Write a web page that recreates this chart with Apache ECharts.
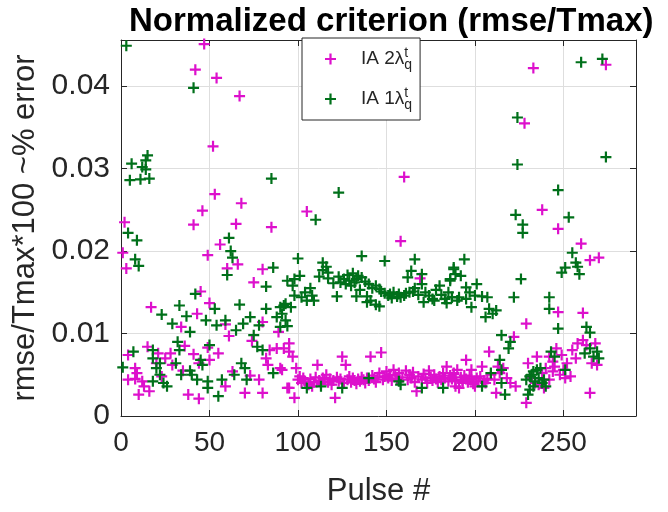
<!DOCTYPE html>
<html><head><meta charset="utf-8">
<script src="https://cdn.jsdelivr.net/npm/echarts@6/dist/echarts.min.js"></script>
<style>html,body{margin:0;padding:0;background:#fff}#c{width:668px;height:512px}</style>
</head><body><div id="c"></div><script>
// ---- data ----
const titleText = 'Normalized criterion (rmse/Tmax)';
const xName = 'Pulse #';
const yName = 'rmse/Tmax*100 ~% error';
const xTicks = [0, 50, 100, 150, 200, 250];
const yTicks = [0, 0.01, 0.02, 0.03, 0.04];
const seriesNames = ['IA 2λ', 'IA 1λ'];
const seriesColors = ['#dd10cc', '#00701a'];

// IA 2 lambda_q^t (magenta)
const ia2 = [
 [47,0.0451],[42,0.0420],[54,0.0410],[67,0.0388],[52,0.0327],[53,0.0269],[68,0.0258],[46,0.0249],[2,0.0235],[41,0.0232],[65,0.0233],[85,0.0229],
 [1,0.0198],[56,0.0208],[49,0.0195],[66,0.0184],[60,0.0179],[3,0.0179],[80,0.0178],[75,0.0162],[45,0.0151],[17,0.0132],[43,0.0124],[50,0.0137],
 [34,0.0108],[59,0.0111],[61,0.0097],[80,0.0114],[89,0.0102],[74,0.0091],[84,0.0080],[82,0.0070],[36,0.0085],[4,0.0074],[15,0.0084],[21,0.0076],
 [28,0.0076],[25,0.0070],[20,0.0064],[29,0.0062],[8,0.0058],[49,0.0083],[41,0.0075],[44,0.0064],[35,0.0055],[50,0.0068],[55,0.0076],[9,0.0052],
 [4,0.0044],[8,0.0045],[12,0.0042],[13,0.0036],[10,0.0026],[16,0.0030],[23,0.0048],[38,0.0026],[44,0.0021],[59,0.0036],[63,0.0054],[73,0.0049],
 [70,0.0028],[78,0.0044],[80,0.0028],[91,0.0056],[94,0.0034],[83,0.0062],[88,0.0082],[95,0.0088],
 [160,0.0290],[105,0.0248],[158,0.0212],[169,0.0167],
 [92,0.0082],[95,0.0078],[97,0.0072],[90,0.0058],[99,0.0058],[98,0.0022],[95,0.0034],[111,0.0062],[125,0.0072],[127,0.0062],[141,0.0072],[147,0.0077],
 [121,0.0022],[108,0.0036],[167,0.0030],[174,0.0055],[184,0.0060],[190,0.0056],[191,0.0034],
 [100,0.0044],[101,0.0048],[102,0.0040],[103,0.0046],[104,0.0042],[106,0.0038],[107,0.0045],[109,0.0041],[110,0.0047],[112,0.0043],[113,0.0039],
 [114,0.0046],[115,0.0044],[116,0.0050],[117,0.0041],[118,0.0045],[119,0.0038],[120,0.0043],[122,0.0047],[123,0.0042],[124,0.0045],[126,0.0040],
 [128,0.0044],[129,0.0048],[130,0.0041],[131,0.0046],[132,0.0043],[133,0.0039],[134,0.0045],[135,0.0042],[136,0.0047],[137,0.0044],[138,0.0040],
 [139,0.0046],[140,0.0043],[142,0.0049],[143,0.0045],[144,0.0041],[145,0.0047],[146,0.0052],[148,0.0044],[149,0.0048],[150,0.0054],[151,0.0046],
 [152,0.0050],[153,0.0043],[154,0.0056],[155,0.0049],[156,0.0045],[157,0.0052],[159,0.0047],[161,0.0055],[162,0.0044],[163,0.0050],[164,0.0046],
 [165,0.0053],[166,0.0041],[168,0.0048],[170,0.0044],[171,0.0051],[172,0.0046],[173,0.0040],[175,0.0047],[176,0.0043],[177,0.0050],[178,0.0045],
 [179,0.0041],[180,0.0048],[181,0.0044],[182,0.0052],[183,0.0046],[185,0.0042],[186,0.0049],[187,0.0045],[188,0.0051],[189,0.0043],[192,0.0047],
 [193,0.0042],[194,0.0049],[195,0.0045],[196,0.0041],[197,0.0048],[198,0.0044],[199,0.0039],[201,0.0046],[202,0.0042],[203,0.0048],[205,0.0043],
 [206,0.0040],[207,0.0045],
 [233,0.0422],[274,0.0426],[228,0.0355],[238,0.0250],[247,0.0227],[260,0.0209],[265,0.0189],[270,0.0192],[247,0.0126],[261,0.0125],[229,0.0112],
 [222,0.0096],[208,0.0078],[195,0.0068],[198,0.0056],[204,0.0060],[216,0.0058],[212,0.0028],[200,0.0036],[189,0.0044],[193,0.0040],[188,0.0052],
 [189,0.0036],[213,0.0060],[230,0.0064],[235,0.0072],[229,0.0016],[236,0.0038],[242,0.0044],[242,0.0072],[246,0.0082],[252,0.0064],[254,0.0048],
 [257,0.0070],[255,0.0080],[258,0.0088],[261,0.0092],[263,0.0086],[268,0.0088],[266,0.0064],[269,0.0062],[265,0.0028],
 [238,0.0052],[240,0.0058],[244,0.0054],[245,0.0060],[248,0.0050],[250,0.0056],[251,0.0046],[244,0.0066],[249,0.0074],[232,0.0046],[234,0.0040],
 [239,0.0034],[209,0.0050],[211,0.0044],[214,0.0052],[218,0.0046],[220,0.0040],[223,0.0036]
];

// IA 1 lambda_q^t (green)
const ia1 = [
 [3,0.0449],[41,0.0398],[6,0.0306],[15,0.0316],[14,0.0310],[12,0.0302],[14,0.0299],[5,0.0286],[11,0.0287],[16,0.0288],[85,0.0288],
 [4,0.0222],[9,0.0213],[8,0.0190],[10,0.0182],[61,0.0216],[62,0.0200],[63,0.0192],[60,0.0171],[86,0.0180],[82,0.0157],[94,0.0164],[42,0.0148],
 [23,0.0123],[33,0.0134],[37,0.0121],[53,0.0130],[67,0.0135],[29,0.0112],[39,0.0102],[48,0.0116],[54,0.0110],[59,0.0116],[65,0.0104],[69,0.0112],
 [73,0.0120],[78,0.0110],[82,0.0130],[90,0.0132],[88,0.0120],[75,0.0098],[77,0.0084],[80,0.0080],[93,0.0136],
 [32,0.0090],[33,0.0080],[7,0.0078],[18,0.0080],[18,0.0070],[22,0.0064],[31,0.0064],[1,0.0059],[50,0.0086],[45,0.0068],[46,0.0062],[34,0.0050],
 [39,0.0055],[40,0.0050],[18,0.0042],[22,0.0050],[20,0.0058],[26,0.0036],[24,0.0040],[43,0.0044],[49,0.0042],[49,0.0034],[55,0.0024],[57,0.0044],
 [64,0.0050],[68,0.0064],[70,0.0058],[71,0.0044],[86,0.0052],
 [123,0.0271],[110,0.0238],
 [100,0.0191],[136,0.0194],[149,0.0188],[166,0.0190],[114,0.0186],[116,0.0181],[114,0.0177],[117,0.0174],[112,0.0169],[117,0.0167],[123,0.0169],
 [128,0.0171],[131,0.0173],[129,0.0164],[133,0.0166],[136,0.0168],[120,0.0161],[124,0.0162],[130,0.0158],[135,0.0153],[133,0.0145],[122,0.0145],
 [139,0.0145],[139,0.0138],[141,0.0140],[146,0.0133],[144,0.0135],[140,0.0160],[144,0.0158],[146,0.0154],[149,0.0149],[152,0.0148],[154,0.0150],
 [156,0.0145],[160,0.0146],[163,0.0150],[162,0.0168],[164,0.0176],[170,0.0172],[166,0.0155],[170,0.0160],[174,0.0146],[171,0.0138],[176,0.0142],
 [178,0.0153],[180,0.0158],[183,0.0142],[184,0.0137],[187,0.0144],[186,0.0166],[189,0.0172],[188,0.0180],[191,0.0144],
 [98,0.0166],[97,0.0158],[101,0.0170],[98,0.0146],[102,0.0144],[104,0.0150],[107,0.0155],[108,0.0146],[105,0.0140],[109,0.0140],[92,0.0134],
 [96,0.0132],[91,0.0124],[93,0.0116],[94,0.0109],[90,0.0108],
 [126,0.0166],[127,0.0160],[132,0.0162],[134,0.0170],[138,0.0163],[142,0.0155],[147,0.0151],[151,0.0146],[153,0.0143],[157,0.0148],[158,0.0144],
 [161,0.0149],[165,0.0151],[168,0.0147],[172,0.0150],[177,0.0140],[181,0.0147],[185,0.0150],
 [105,0.0034],[113,0.0036],[125,0.0034],[140,0.0046],[157,0.0042],[158,0.0038],[170,0.0034],[182,0.0034],
 [260,0.0429],[272,0.0433],[224,0.0362],[224,0.0305],[274,0.0314],[247,0.0274],[223,0.0244],[253,0.0241],[227,0.0232],[227,0.0222],
 [255,0.0198],[257,0.0186],[258,0.0181],[251,0.0180],[249,0.0174],[259,0.0172],[194,0.0190],[188,0.0178],[192,0.0170],[186,0.0164],[226,0.0166],
 [195,0.0156],[201,0.0160],[197,0.0150],[200,0.0146],[204,0.0145],[207,0.0144],[190,0.0140],[195,0.0142],[198,0.0132],[187,0.0144],[222,0.0144],
 [242,0.0144],[208,0.0130],[212,0.0128],[206,0.0120],[210,0.0124],[242,0.0130],[247,0.0106],[263,0.0108],[265,0.0101],[215,0.0098],[220,0.0090],
 [219,0.0082],[214,0.0068],[209,0.0052],[204,0.0036],[215,0.0040],[217,0.0026],[229,0.0044],[235,0.0056],[237,0.0058],[232,0.0050],[231,0.0032],
 [230,0.0026],[233,0.0036],[240,0.0036],[239,0.0044],[243,0.0078],[245,0.0072],[251,0.0056],[265,0.0082],[269,0.0078],[267,0.0072],[270,0.0070],
 [262,0.0076],[215,0.0056],[231,0.0048],[234,0.0042],[236,0.0046],[238,0.0040],[233,0.0054]
];

// ---- chart ----
const FONT = '"Liberation Sans", Arial, Helvetica, sans-serif';
const INK = '#262626';
const PLUS = 'path://M4,0H6V4H10V6H6V10H4V6H0V4H4Z';
const xMax = 291, yMax = 0.0456;

function onTick(list, v) { return list.some(t => Math.abs(t - v) < 1e-9); }

const axisLineStyle = { show: true, onZero: false, lineStyle: { color: INK, width: 1 } };
const tickStyle = { show: true, inside: true, length: 6, lineStyle: { color: INK, width: 1 } };

const chart = echarts.init(document.getElementById('c'), null, { renderer: 'canvas' });
chart.setOption({
  animation: false,
  backgroundColor: '#fff',
  textStyle: { fontFamily: FONT },
  title: {
    text: titleText, left: 124, top: 0,
    textStyle: { fontSize: 33, fontWeight: 'bold', color: '#000', fontFamily: FONT }
  },
  grid: { left: 121, right: 32, top: 40, bottom: 92, containLabel: false },
  legend: {
    orient: 'vertical', left: 302, top: 38,
    padding: [8, 8, 8, 23], itemGap: 14,
    itemWidth: 11, itemHeight: 11,
    borderColor: INK, borderWidth: 1, backgroundColor: '#fff',
    data: seriesNames.map(n => ({ name: n, icon: PLUS })),
    formatter: n => '{m|' + n + '}{t|t}{q|q}',
    textStyle: {
      padding: [0, 0, 0, 20], color: INK,
      rich: {
        m: { fontSize: 19, fontFamily: FONT, color: INK, lineHeight: 26, verticalAlign: 'middle' },
        t: { fontSize: 14, fontFamily: FONT, color: INK, lineHeight: 14, verticalAlign: 'top', width: 0 },
        q: { fontSize: 14, fontFamily: FONT, color: INK, lineHeight: 14, verticalAlign: 'bottom' }
      }
    }
  },
  xAxis: [{
    type: 'value', min: 0, max: xMax, interval: 50, position: 'bottom',
    axisLine: axisLineStyle, axisTick: tickStyle,
    axisLabel: { fontSize: 28, color: INK, margin: 13, fontFamily: FONT,
      formatter: v => onTick(xTicks, v) ? String(v) : '' },
    splitLine: { show: true, lineStyle: { color: '#dedede', width: 1 } },
    name: xName, nameLocation: 'middle', nameGap: 60,
    nameTextStyle: { fontSize: 31, color: INK, fontFamily: FONT }
  }, {
    type: 'value', min: 0, max: xMax, interval: 50, position: 'top',
    axisLine: axisLineStyle, axisTick: tickStyle,
    axisLabel: { show: false }, splitLine: { show: false }
  }],
  yAxis: [{
    type: 'value', min: 0, max: yMax, interval: 0.01, position: 'left',
    axisLine: axisLineStyle, axisTick: tickStyle,
    axisLabel: { fontSize: 30, color: INK, margin: 11, fontFamily: FONT,
      formatter: v => onTick(yTicks, v) ? (v === 0 ? '0' : v.toFixed(2)) : '' },
    splitLine: { show: true, lineStyle: { color: '#dedede', width: 1 } },
    name: yName, nameLocation: 'middle', nameGap: 74,
    nameTextStyle: { fontSize: 31, color: INK, fontFamily: FONT }
  }, {
    type: 'value', min: 0, max: yMax, interval: 0.01, position: 'right',
    axisLine: axisLineStyle, axisTick: tickStyle,
    axisLabel: { show: false }, splitLine: { show: false }
  }],
  series: [
    { name: seriesNames[0], type: 'scatter', xAxisIndex: 0, yAxisIndex: 0, data: ia2,
      symbol: PLUS, symbolSize: 11, itemStyle: { color: seriesColors[0], opacity: 1 } },
    { name: seriesNames[1], type: 'scatter', xAxisIndex: 0, yAxisIndex: 0, data: ia1,
      symbol: PLUS, symbolSize: 11, itemStyle: { color: seriesColors[1], opacity: 1 } }
  ]
});
</script></body></html>
